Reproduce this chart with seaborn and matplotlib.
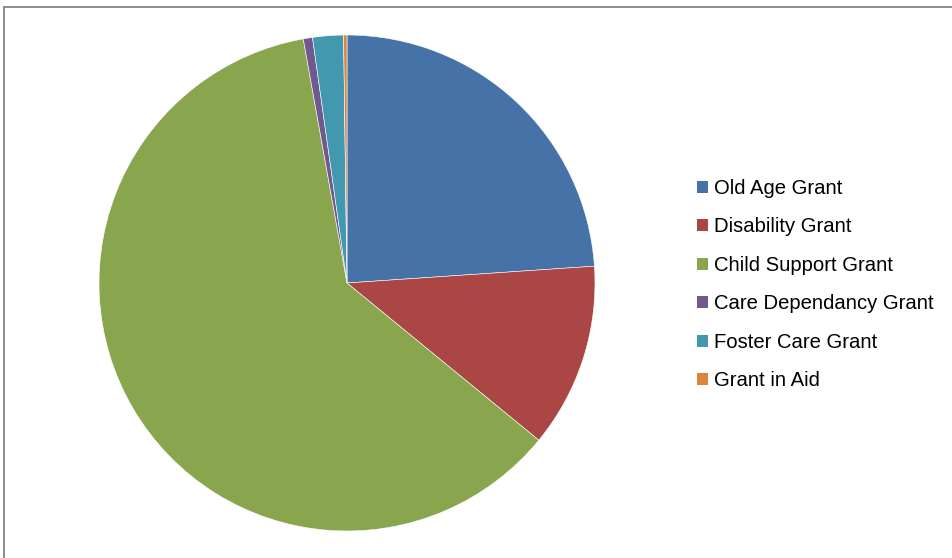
import matplotlib
matplotlib.use("Agg")
import matplotlib.pyplot as plt
from matplotlib.lines import Line2D
import seaborn as sns

# Share of social grant beneficiaries by grant type (%)
grants = ["Old Age Grant", "Disability Grant", "Child Support Grant",
          "Care Dependancy Grant", "Foster Care Grant", "Grant in Aid"]
shares = [23.9, 12.0, 61.2, 0.6, 2.0, 0.22]
colors = ["#4572A7", "#AA4643", "#89A54E", "#71588F", "#4198AF", "#DB843D"]

sns.set_theme(style="white")
plt.rcParams["font.family"] = ["Liberation Sans", "DejaVu Sans"]

W, H = 952, 558
fig = plt.figure(figsize=(W / 100, H / 100), dpi=100)

cx, cy, r = 347, 283, 248
ax = fig.add_axes([(cx - r) / W, (H - cy - r) / H, 2 * r / W, 2 * r / H])
palette = sns.color_palette(colors)
wedges, _ = ax.pie(shares, colors=palette, startangle=90, counterclock=False,
                   radius=1.0, wedgeprops=dict(edgecolor="white", linewidth=0.4))
ax.set_xlim(-1, 1)
ax.set_ylim(-1, 1)
ax.set_aspect("equal")
ax.axis("off")

# chart frame (top and left edges visible)
frame_kw = dict(color="#8c8c8c", linewidth=1.4, transform=fig.transFigure)
fig.add_artist(Line2D([4 / W, 1.0], [1 - 7 / H, 1 - 7 / H], **frame_kw))
fig.add_artist(Line2D([4 / W, 4 / W], [1 - 7 / H, 0.0], **frame_kw))

handles = [plt.Rectangle((0, 0), 1, 1, facecolor=c, edgecolor="none") for c in palette]
leg = fig.legend(handles, grants, loc="upper left",
                 bbox_to_anchor=(697 / W, 1 - 179 / H),
                 frameon=False, fontsize=14.6, handlelength=0.55, handleheight=0.55,
                 handletextpad=0.3, labelspacing=0.96, borderpad=0, borderaxespad=0)
for t in leg.get_texts():
    t.set_color("black")

fig.savefig("out.png", dpi=100, facecolor="white")
